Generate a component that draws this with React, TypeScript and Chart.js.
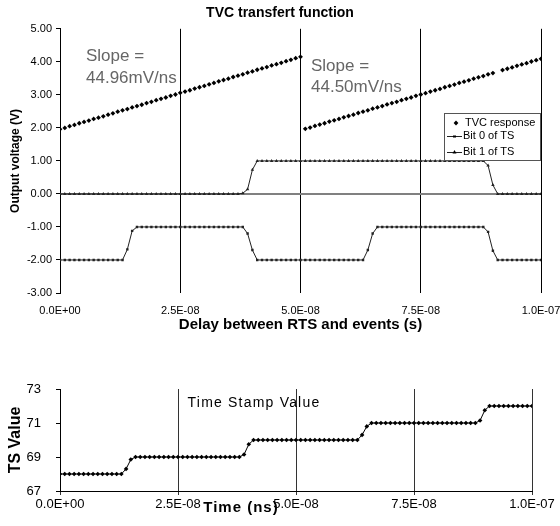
import React, { useEffect, useRef } from 'react';
import { Chart, registerables } from 'chart.js';

Chart.register(...registerables);

const FONT = '"Liberation Sans", Arial, sans-serif';

// Sample times (ns)
const TIME_NS = [
  0, 1, 2, 3, 4, 5, 6, 7, 8, 9,
  10, 11, 12, 13, 14, 15, 16, 17, 18, 19,
  20, 21, 22, 23, 24, 25, 26, 27, 28, 29,
  30, 31, 32, 33, 34, 35, 36, 37, 38, 39,
  40, 41, 42, 43, 44, 45, 46, 47, 48, 49,
  50, 51, 52, 53, 54, 55, 56, 57, 58, 59,
  60, 61, 62, 63, 64, 65, 66, 67, 68, 69,
  70, 71, 72, 73, 74, 75, 76, 77, 78, 79,
  80, 81, 82, 83, 84, 85, 86, 87, 88, 89,
  90, 91, 92, 93, 94, 95, 96, 97, 98, 99,
  100,
];

const TVC_RESPONSE = [
  1.96, 2.0, 2.05, 2.09, 2.14, 2.18, 2.22, 2.27, 2.31, 2.35,
  2.4, 2.44, 2.49, 2.53, 2.57, 2.62, 2.66, 2.7, 2.75, 2.79,
  2.84, 2.88, 2.92, 2.97, 3.01, 3.06, 3.1, 3.14, 3.19, 3.23,
  3.27, 3.32, 3.36, 3.41, 3.45, 3.49, 3.54, 3.58, 3.62, 3.67,
  3.71, 3.76, 3.8, 3.84, 3.89, 3.93, 3.97, 4.02, 4.06, 4.11,
  4.15, 1.97, 2.01, 2.06, 2.1, 2.14, 2.19, 2.23, 2.27, 2.32,
  2.36, 2.4, 2.45, 2.49, 2.53, 2.58, 2.62, 2.66, 2.71, 2.75,
  2.79, 2.84, 2.88, 2.92, 2.97, 3.01, 3.05, 3.1, 3.14, 3.18,
  3.23, 3.27, 3.31, 3.36, 3.4, 3.44, 3.49, 3.53, 3.57, 3.62,
  3.66, null, 3.75, 3.79, 3.83, 3.88, 3.92, 3.96, 4.01, 4.05,
  4.09,
];

const BIT0_TS = [
  -2, -2, -2, -2, -2, -2, -2, -2, -2, -2,
  -2, -2, -2, -2, -1.68, -1.12, -1, -1, -1, -1,
  -1, -1, -1, -1, -1, -1, -1, -1, -1, -1,
  -1, -1, -1, -1, -1, -1, -1, -1, -1, -1.2,
  -1.7, -2, -2, -2, -2, -2, -2, -2, -2, -2,
  -2, -2, -2, -2, -2, -2, -2, -2, -2, -2,
  -2, -2, -2, -2, -1.7, -1.2, -1, -1, -1, -1,
  -1, -1, -1, -1, -1, -1, -1, -1, -1, -1,
  -1, -1, -1, -1, -1, -1, -1, -1, -1, -1.15,
  -1.72, -2, -2, -2, -2, -2, -2, -2, -2, -2,
  -2,
];

const BIT1_TS = [
  0, 0, 0, 0, 0, 0, 0, 0, 0, 0,
  0, 0, 0, 0, 0, 0, 0, 0, 0, 0,
  0, 0, 0, 0, 0, 0, 0, 0, 0, 0,
  0, 0, 0, 0, 0, 0, 0, 0, 0.02, 0.14,
  0.73, 1, 1, 1, 1, 1, 1, 1, 1, 1,
  1, 1, 1, 1, 1, 1, 1, 1, 1, 1,
  1, 1, 1, 1, 1, 1, 1, 1, 1, 1,
  1, 1, 1, 1, 1, 1, 1, 1, 1, 1,
  1, 1, 1, 1, 1, 1, 1, 1, 1, 0.86,
  0.27, 0, 0, 0, 0, 0, 0, 0, 0, 0,
  0,
];

const TS_VALUE = [
  68, 68, 68, 68, 68, 68, 68, 68, 68, 68,
  68, 68, 68, 68, 68.3, 68.85, 69, 69, 69, 69,
  69, 69, 69, 69, 69, 69, 69, 69, 69, 69,
  69, 69, 69, 69, 69, 69, 69, 69, 69, 69.15,
  69.75, 70, 70, 70, 70, 70, 70, 70, 70, 70,
  70, 70, 70, 70, 70, 70, 70, 70, 70, 70,
  70, 70, 70, 70, 70.3, 70.8, 71, 71, 71, 71,
  71, 71, 71, 71, 71, 71, 71, 71, 71, 71,
  71, 71, 71, 71, 71, 71, 71, 71, 71, 71.15,
  71.75, 72, 72, 72, 72, 72, 72, 72, 72, 72,
  72,
];

const X_TICK_LABELS = ['0.0E+00', '2.5E-08', '5.0E-08', '7.5E-08', '1.0E-07'];
const LEGEND_LABELS = ['TVC response', 'Bit 0 of TS', 'Bit 1 of TS'];
const SLOPE_NOTES = [
  ['Slope =', '44.96mV/ns'],
  ['Slope =', '44.50mV/ns'],
];

const pts = (ys: (number | null)[]) => TIME_NS.map((x, i) => ({ x, y: ys[i] }));
const xLabel = (v: any) => X_TICK_LABELS[Math.round(Number(v) / 25)] ?? '';

const topPlugin = {
  id: 'topDecor',
  beforeDatasetsDraw(chart: any) {
    const { ctx, chartArea, scales } = chart;
    const y0 = scales.y.getPixelForValue(0);
    ctx.save();
    ctx.strokeStyle = '#808080';
    ctx.lineWidth = 2;
    ctx.beginPath();
    ctx.moveTo(chartArea.left, y0);
    ctx.lineTo(chartArea.right, y0);
    ctx.stroke();
    ctx.restore();
  },
  afterDraw(chart: any) {
    const { ctx } = chart;
    ctx.save();
    // slope notes
    ctx.fillStyle = '#666';
    ctx.font = `17px ${FONT}`;
    ctx.textBaseline = 'middle';
    ctx.textAlign = 'left';
    ctx.fillText(SLOPE_NOTES[0][0], 86, 56);
    ctx.fillText(SLOPE_NOTES[0][1], 86, 78);
    ctx.fillText(SLOPE_NOTES[1][0], 311, 66);
    ctx.fillText(SLOPE_NOTES[1][1], 311, 87);
    // legend box
    ctx.fillStyle = '#fff';
    ctx.fillRect(444.5, 113.5, 96, 47);
    ctx.strokeStyle = '#555';
    ctx.lineWidth = 1;
    ctx.strokeRect(444.5, 113.5, 96, 47);
    ctx.fillStyle = '#000';
    ctx.strokeStyle = '#222';
    ctx.font = `11px ${FONT}`;
    const ys = [123, 136, 152];
    // diamond
    ctx.beginPath();
    ctx.moveTo(456, ys[0] - 2.4);
    ctx.lineTo(458.4, ys[0]);
    ctx.lineTo(456, ys[0] + 2.4);
    ctx.lineTo(453.6, ys[0]);
    ctx.closePath();
    ctx.fill();
    // bit 0
    ctx.beginPath();
    ctx.moveTo(447, ys[1] + 0.5);
    ctx.lineTo(462, ys[1] + 0.5);
    ctx.stroke();
    ctx.fillRect(453, ys[1] - 0.5, 3, 2);
    // bit 1
    ctx.beginPath();
    ctx.moveTo(447, ys[2] + 0.5);
    ctx.lineTo(462, ys[2] + 0.5);
    ctx.stroke();
    ctx.beginPath();
    ctx.moveTo(454.5, ys[2] - 2);
    ctx.lineTo(456.5, ys[2] + 1.5);
    ctx.lineTo(452.5, ys[2] + 1.5);
    ctx.closePath();
    ctx.fill();
    ctx.fillText(LEGEND_LABELS[0], 465, ys[0]);
    ctx.fillText(LEGEND_LABELS[1], 463, ys[1]);
    ctx.fillText(LEGEND_LABELS[2], 463, ys[2]);
    ctx.restore();
  },
};

const bottomPlugin = {
  id: 'bottomDecor',
  afterDraw(chart: any) {
    const { ctx } = chart;
    ctx.save();
    ctx.fillStyle = '#000';
    ctx.textBaseline = 'middle';
    ctx.textAlign = 'center';
    ctx.font = `14px ${FONT}`;
    (ctx as any).letterSpacing = '1.2px';
    ctx.fillText('Time Stamp Value', 254, 63);
    ctx.font = `bold 15px ${FONT}`;
    (ctx as any).letterSpacing = '1px';
    ctx.fillText('Time (ns)', 241, 168);
    ctx.restore();
  },
};

export default function App() {
  const topRef = useRef<HTMLCanvasElement>(null);
  const botRef = useRef<HTMLCanvasElement>(null);

  useEffect(() => {
    Chart.defaults.font.family = FONT;
    Chart.defaults.color = '#000';

    const top = new Chart(topRef.current as HTMLCanvasElement, {
      type: 'line',
      data: {
        datasets: [
          {
            label: LEGEND_LABELS[0],
            data: pts(TVC_RESPONSE),
            showLine: false,
            pointStyle: 'rectRot',
            pointRadius: 2.4,
            pointBackgroundColor: '#000',
            pointBorderColor: '#000',
            pointBorderWidth: 0,
          },
          {
            label: LEGEND_LABELS[1],
            data: pts(BIT0_TS),
            borderColor: '#222',
            borderWidth: 1,
            pointStyle: 'rect',
            pointRadius: 1.7,
            pointBackgroundColor: '#222',
            pointBorderColor: '#222',
            pointBorderWidth: 0,
          },
          {
            label: LEGEND_LABELS[2],
            data: pts(BIT1_TS),
            borderColor: '#222',
            borderWidth: 1,
            pointStyle: 'triangle',
            pointRadius: 2,
            pointBackgroundColor: '#222',
            pointBorderColor: '#222',
            pointBorderWidth: 0,
          },
        ],
      } as any,
      options: {
        responsive: false,
        animation: false,
        layout: { padding: 0 },
        plugins: {
          legend: { display: false },
          tooltip: { enabled: false },
          title: {
            display: true,
            text: 'TVC transfert function',
            color: '#000',
            font: { size: 14, weight: 'bold' },
            padding: { top: 5, bottom: 7 },
          },
        },
        scales: {
          x: {
            type: 'linear',
            min: 0,
            max: 100,
            ticks: { stepSize: 25, callback: xLabel, font: { size: 11 }, color: '#000', padding: 11, maxRotation: 0 },
            grid: { color: '#000', drawTicks: false, lineWidth: 1 },
            border: { display: false },
            title: {
              display: true,
              text: 'Delay between RTS and events (s)',
              color: '#000',
              font: { size: 15, weight: 'bold' },
              padding: { top: 0, bottom: 6 },
            },
            afterFit: (s: any) => {
              s.height = 47;
              s.paddingRight = 19;
              s.paddingLeft = 0;
            },
          },
          y: {
            min: -3,
            max: 5,
            ticks: { stepSize: 1, callback: (v: any) => Number(v).toFixed(2), font: { size: 11 }, color: '#000', padding: 4 },
            grid: { drawOnChartArea: false, drawTicks: true, tickLength: 4, color: '#000' },
            border: { display: true, color: '#000' },
            title: {
              display: true,
              text: 'Output voltage (V)',
              color: '#000',
              font: { size: 12, weight: 'bold' },
              padding: { top: 8, bottom: 0 },
            },
            afterFit: (s: any) => {
              s.width = 60;
            },
          },
        },
      } as any,
      plugins: [topPlugin],
    });

    const bot = new Chart(botRef.current as HTMLCanvasElement, {
      type: 'line',
      data: {
        datasets: [
          {
            label: 'TS Value',
            data: pts(TS_VALUE),
            borderColor: '#000',
            borderWidth: 1,
            pointStyle: 'rectRot',
            pointRadius: 2.3,
            pointBackgroundColor: '#000',
            pointBorderColor: '#000',
            pointBorderWidth: 0,
          },
        ],
      } as any,
      options: {
        responsive: false,
        animation: false,
        layout: { padding: { top: 49, left: 0, right: 0, bottom: 0 } },
        plugins: { legend: { display: false }, tooltip: { enabled: false }, title: { display: false } },
        scales: {
          x: {
            type: 'linear',
            min: 0,
            max: 100,
            ticks: { stepSize: 25, callback: xLabel, font: { size: 13 }, color: '#000', padding: 2, maxRotation: 0 },
            grid: { color: '#333', drawTicks: true, tickLength: 4, lineWidth: 1 },
            border: { display: true, color: '#000' },
            afterFit: (s: any) => {
              s.height = 35;
              s.paddingRight = 28;
              s.paddingLeft = 0;
            },
          },
          y: {
            min: 67,
            max: 73,
            ticks: { stepSize: 2, font: { size: 13 }, color: '#000', padding: 15 },
            grid: { drawOnChartArea: false, drawTicks: true, tickLength: 4, color: '#000' },
            border: { display: true, color: '#000' },
            title: {
              display: true,
              text: 'TS Value',
              color: '#000',
              font: { size: 16, weight: 'bold' },
              padding: { top: 6, bottom: 0 },
            },
            afterFit: (s: any) => {
              s.width = 60;
            },
          },
        },
      } as any,
      plugins: [bottomPlugin],
    });

    return () => {
      top.destroy();
      bot.destroy();
    };
  }, []);

  return (
    <div style={{ position: 'absolute', left: 0, top: 0, width: 560, height: 526, background: '#fff' }}>
      <canvas ref={topRef} width={560} height={340} style={{ position: 'absolute', left: 0, top: 0 }} />
      <canvas ref={botRef} width={560} height={186} style={{ position: 'absolute', left: 0, top: 340 }} />
    </div>
  );
}
